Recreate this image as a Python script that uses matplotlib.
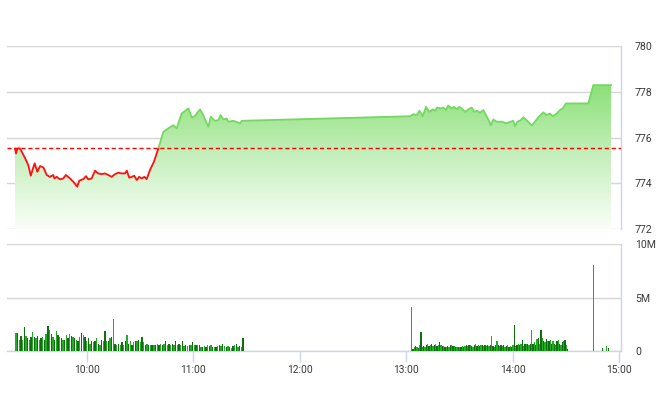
import numpy as np
import matplotlib
matplotlib.use("Agg")
import matplotlib.pyplot as plt
from matplotlib.colors import LinearSegmentedColormap
from matplotlib.patches import Rectangle, PathPatch

plt.rcParams['font.family'] = ['Roboto', 'DejaVu Sans']

# ---------------- data ----------------
reference_price = 775.55

price_times = [
    "09:19:30", "09:20:06", "09:20:48", "09:21:54", "09:23:18", "09:25:06", "09:27:00", "09:28:24",
    "09:29:48", "09:30:36", "09:32:06", "09:33:36", "09:35:30", "09:37:24", "09:39:12", "09:41:06",
    "09:41:42", "09:43:00", "09:44:54", "09:46:42", "09:48:12", "09:50:30", "09:52:24", "09:54:36",
    "09:55:42", "09:58:00", "09:59:30", "10:00:48", "10:02:42", "10:04:36", "10:06:24", "10:08:24",
    "10:10:12", "10:12:06", "10:14:00", "10:15:54", "10:17:42", "10:19:36", "10:21:30", "10:22:30",
    "10:23:54", "10:25:18", "10:26:42", "10:28:06", "10:29:30", "10:30:54", "10:32:24", "10:33:42",
    "10:35:36", "10:37:48", "10:40:18",
    "10:43:06", "10:45:54", "10:48:42", "10:50:36", "10:53:24", "10:57:12", "10:59:06", "11:00:54",
    "11:01:54", "11:03:48", "11:05:36", "11:08:24", "11:09:48", "11:12:12", "11:14:06", "11:15:24",
    "11:16:54", "11:18:48", "11:19:42", "11:22:30", "11:26:18", "11:27:18",
    "13:02:06", "13:04:00", "13:05:54", "13:07:24", "13:09:18", "13:11:06", "13:13:00", "13:14:54",
    "13:16:12", "13:17:24", "13:19:24", "13:20:48", "13:22:24", "13:23:36", "13:25:36", "13:26:54",
    "13:28:24", "13:29:54", "13:31:12", "13:33:06", "13:35:00", "13:36:54", "13:38:18", "13:40:00",
    "13:41:30", "13:43:24", "13:44:54", "13:46:12", "13:47:42", "13:49:00", "13:50:54", "13:53:48",
    "13:56:12", "13:58:48", "14:00:18", "14:01:18", "14:02:36", "14:04:30", "14:06:00", "14:07:48",
    "14:09:18", "14:10:42", "14:12:30", "14:14:24", "14:17:12", "14:19:06", "14:21:00", "14:22:30",
    "14:24:24", "14:26:36", "14:28:12", "14:30:00", "14:42:36", "14:45:24", "14:55:24",
]
price_values = [
    775.52, 775.30, 775.50, 775.57, 775.38, 775.11, 774.79, 774.33,
    774.69, 774.87, 774.50, 774.75, 774.69, 774.36, 774.28, 774.36,
    774.21, 774.28, 774.17, 774.21, 774.36, 774.21, 774.06, 773.85,
    774.11, 774.18, 774.31, 774.17, 774.21, 774.55, 774.43, 774.40,
    774.43, 774.36, 774.28, 774.40, 774.46, 774.43, 774.43, 774.55,
    774.24, 774.28, 774.33, 774.14, 774.28, 774.21, 774.28, 774.18,
    774.58, 774.94, 775.52,
    776.25, 776.40, 776.54, 776.40, 777.05, 777.27, 776.88, 776.93,
    777.05, 777.23, 776.98, 776.47, 776.90, 776.73, 776.76, 776.98,
    776.79, 776.83, 776.69, 776.73, 776.62, 776.73,
    776.93, 777.02, 776.98, 777.17, 776.93, 777.34, 777.12, 777.23,
    777.17, 777.31, 777.27, 777.31, 777.20, 777.40, 777.27, 777.34,
    777.23, 777.34, 777.27, 777.12, 777.23, 777.31, 777.12, 777.17,
    777.08, 777.20, 776.98, 776.79, 776.54, 776.79, 776.69, 776.69,
    776.62, 776.69, 776.73, 776.50, 776.69, 776.76, 776.88, 776.76,
    776.64, 776.53, 776.69, 776.88, 777.10, 776.98, 777.05, 776.93,
    777.02, 777.20, 777.27, 777.49, 777.49, 778.29, 778.29,
]

# volume (millions), morning session bars from 09:20 to 11:28
vol_am_start, vol_am_end = "09:20", "11:28"
vol_am = [
    1.7, 1.7, 1.0, 1.4, 1.0, 2.2, 1.4, 1.2, 1.0, 1.35, 1.8, 1.35, 1.2, 1.4, 1.0, 1.25,
    1.35, 1.0, 1.6, 2.3, 2.0, 1.6, 1.3, 1.0, 1.9, 1.5, 1.35, 1.2, 1.0, 1.0, 1.5, 1.2,
    1.6, 1.4, 1.3, 1.2, 1.0, 0.9, 1.3, 1.7, 1.5, 1.3, 0.9, 1.2, 0.7, 0.9, 0.8, 0.9,
    1.2, 0.7, 0.55, 1.0, 0.9, 1.9, 0.9, 0.9, 1.2, 1.3, 2.95, 0.7, 0.55, 0.7, 0.55, 0.8,
    0.55, 0.9, 1.5, 0.7, 0.9, 0.55, 0.8, 0.9, 0.9, 1.0, 0.8, 1.35, 0.8, 0.55, 0.7, 0.55,
    0.55, 0.55, 0.55, 0.55, 0.65, 0.55, 0.7, 0.55, 0.65, 0.9, 0.55, 0.65, 0.55, 0.7, 0.55, 0.9,
    0.55, 0.65, 0.55, 0.9, 0.45, 0.55, 0.45, 0.55, 0.55, 0.8, 0.55, 0.55, 0.55, 0.55, 0.35, 0.4,
    0.45, 0.35, 0.55, 0.45, 0.55, 0.4, 0.35, 0.4, 0.45, 0.55, 0.45, 0.65, 0.45, 0.4, 0.45, 0.35,
    0.25, 0.45, 0.55, 0.65, 0.4, 0.45, 0.4, 1.2,
]
# afternoon session bars from 13:03 to 14:31
vol_pm_start, vol_pm_end = "13:03", "14:31"
vol_pm = [
    4.1, 0.15, 0.35, 0.45, 0.4, 0.25, 0.55, 1.8, 0.4, 0.45, 0.35, 0.55, 0.65, 0.45, 0.55, 0.65,
    0.45, 0.55, 0.7, 0.45, 0.55, 0.8, 0.55, 0.45, 0.45, 0.4, 0.4, 0.45, 0.35, 0.55, 0.55, 0.45,
    0.45, 0.35, 0.4, 0.35, 0.35, 0.4, 0.45, 0.35, 0.45, 0.55, 0.45, 0.55, 0.55, 0.45, 0.4, 0.55,
    0.65, 0.45, 0.55, 0.45, 0.55, 0.55, 0.45, 0.55, 0.45, 0.55, 0.45, 0.55, 1.4, 0.45, 0.4, 0.55,
    0.9, 0.55, 0.45, 0.55, 0.45, 0.55, 0.4, 0.45, 0.55, 0.4, 0.45, 0.35, 0.55, 2.45, 0.45, 0.55,
    0.65, 0.55, 0.7, 1.0, 0.45, 0.7, 0.65, 0.65, 0.55, 0.7, 2.0, 0.7, 0.8, 0.55, 1.1, 1.2,
    0.7, 2.0, 1.2, 0.9, 0.8, 1.1, 0.9, 0.9, 1.0, 0.7, 0.9, 0.7, 0.55, 0.9, 1.0, 0.65,
    0.55, 0.8, 0.9, 1.0, 0.55, 0.15,
]
# closing auction and late trades
vol_late_times = ["14:45:24", "14:50:30", "14:53:00", "14:54:00"]
vol_late = [8.0, 0.25, 0.45, 0.25]

x_tick_labels = ["10:00", "11:00", "12:00", "13:00", "14:00", "15:00"]
price_ticks = [772, 774, 776, 778, 780]
volume_ticks = [0, 5, 10]
volume_tick_labels = ["0", "5M", "10M"]
x_start, x_end = "09:15", "15:01"


def to_min(s):
    parts = [int(p) for p in s.split(':')]
    while len(parts) < 3:
        parts.append(0)
    return parts[0] * 60 + parts[1] + parts[2] / 60.0


# ---------------- figure ----------------
W, H = 660, 412
fig = plt.figure(figsize=(W / 100, H / 100), dpi=100)
ax1 = fig.add_axes([7 / W, 1 - 229 / H, 614 / W, 183 / H])
ax2 = fig.add_axes([7 / W, 1 - 351 / H, 614 / W, 107 / H])

xmin, xmax = to_min(x_start), to_min(x_end)
grid_c = '#d6d6d6'
axis_c = '#ccd6eb'
label_c = '#3a3a3a'

xs = np.array([to_min(t) for t in price_times])
ys = np.array(price_values)
ylo, yhi = price_ticks[0], price_ticks[-1]

# gradient area
poly = ax1.fill_between(xs, ys, ylo, facecolor='none', edgecolor='none')
path = poly.get_paths()[0]
clip = PathPatch(path, transform=ax1.transData, facecolor='none', edgecolor='none')
ax1.add_patch(clip)
cmap = LinearSegmentedColormap.from_list('g', ['#fbfefa', '#c6f0bd', '#8ce079'])
grad = np.linspace(0, 1, 256).reshape(-1, 1)
im = ax1.imshow(grad, cmap=cmap, aspect='auto', origin='lower',
                extent=[xs.min(), xs.max(), ylo, ys.max()], zorder=1, interpolation='bilinear')
im.set_clip_path(clip)

# line: red below reference, green above
lr, = ax1.plot(xs, ys, color='#ff1010', lw=1.3, zorder=4, solid_joinstyle='round')
lr.set_clip_path(Rectangle((xmin, ylo - 5), xmax - xmin, reference_price - ylo + 5,
                           transform=ax1.transData))
lg, = ax1.plot(xs, ys, color='#74d862', lw=1.3, zorder=4, solid_joinstyle='round')
lg.set_clip_path(Rectangle((xmin, reference_price), xmax - xmin, yhi - reference_price + 5,
                           transform=ax1.transData))

ax1.axhline(reference_price, color='#ff0000', lw=1.0, ls=(0, (3, 2)), zorder=5)

ax1.set_xlim(xmin, xmax)
ax1.set_ylim(ylo, yhi)
ax1.set_yticks(price_ticks)
ax1.set_yticklabels([str(v) for v in price_ticks])
ax1.yaxis.tick_right()
ax1.tick_params(axis='y', length=0, pad=10, labelsize=7.6, labelcolor=label_c)
ax1.set_xticks([])
ax1.grid(axis='y', color=grid_c, lw=1, zorder=0)
ax1.set_axisbelow(True)
for s in ['left', 'top', 'bottom']:
    ax1.spines[s].set_visible(False)
ax1.spines['right'].set_color(axis_c)
ax1.spines['right'].set_linewidth(1)

# volume bars
t_am = np.linspace(to_min(vol_am_start), to_min(vol_am_end), len(vol_am))
t_pm = np.linspace(to_min(vol_pm_start), to_min(vol_pm_end), len(vol_pm))
t_late = np.array([to_min(t) for t in vol_late_times])
vt = np.concatenate([t_am, t_pm, t_late])
vv = np.concatenate([vol_am, vol_pm, vol_late])
cols = ['#0e700e' if i % 2 else '#26ab26' for i in range(len(vv))]
cols[-4] = '#26ab26'
ax2.bar(vt, vv, width=0.75, color=cols, linewidth=0, zorder=3)

ax2.set_xlim(xmin, xmax)
ax2.set_ylim(volume_ticks[0], volume_ticks[-1])
ax2.set_yticks(volume_ticks)
ax2.set_yticklabels(volume_tick_labels)
ax2.yaxis.tick_right()
ax2.tick_params(axis='y', length=0, pad=10, labelsize=7.6, labelcolor=label_c)
ax2.set_xticks([to_min(t) for t in x_tick_labels])
ax2.set_xticklabels(x_tick_labels)
ax2.tick_params(axis='x', length=8, width=1, color=axis_c, pad=2, labelsize=7.4, labelcolor=label_c)
ax2.grid(axis='y', color=grid_c, lw=1, zorder=0)
ax2.set_axisbelow(True)
for s in ['left', 'top']:
    ax2.spines[s].set_visible(False)
for s in ['right', 'bottom']:
    ax2.spines[s].set_color(axis_c)
    ax2.spines[s].set_linewidth(1)

fig.savefig('out.png', dpi=100)
